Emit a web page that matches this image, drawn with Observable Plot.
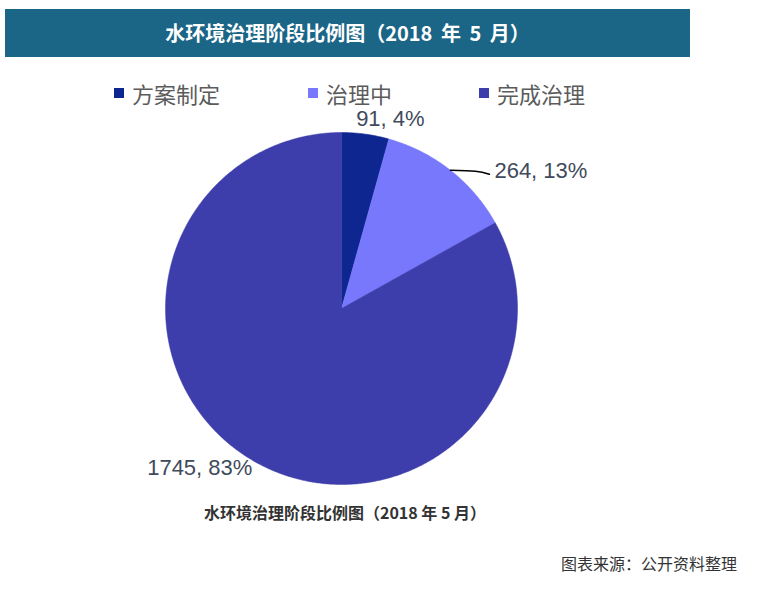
<!DOCTYPE html>
<html>
<head>
<meta charset="utf-8">
<script src="https://cdn.jsdelivr.net/npm/d3@7"></script>
<script src="https://cdn.jsdelivr.net/npm/@observablehq/plot@0.6"></script>
<style>
  html, body { margin: 0; padding: 0; background: #fff; }
  #wrap { position: relative; width: 769px; height: 591px; overflow: hidden; font-family: "Noto Sans CJK SC", "Noto Sans", sans-serif; }
  #titlebar { position: absolute; left: 5px; top: 9px; width: 685px; height: 48px; background: #1b6587;
    color: #fff; font-weight: bold; font-size: 20px; line-height: 48px; text-align: center; word-spacing: 4px; }
  #legend { position: absolute; left: 0; top: 78px; width: 769px; height: 30px; }
  .lg { position: absolute; top: 0; font-size: 22px; line-height: 30px; color: #5b5b5b; white-space: nowrap; }
  .lg i { position: absolute; left: -18px; top: 10px; width: 10px; height: 10px; }
  #caption { position: absolute; left: 0; width: 690px; top: 500px; text-align: center; font-weight: bold; font-size: 16px; color: #333; }
  #source { position: absolute; right: 32px; top: 551px; font-size: 16px; color: #333; }
  #chart { position: absolute; left: 0; top: 0; }
</style>
</head>
<body>
<div id="wrap">
  <div id="chart"></div>
  <div id="titlebar"></div>
  <div id="legend"></div>
  <div id="caption"></div>
  <div id="source"></div>
</div>
<script>
const titleText = "水环境治理阶段比例图（2018 年 5 月）";
const captionText = "水环境治理阶段比例图（2018 年 5 月）";
const sourceText = "图表来源：公开资料整理";
const categories = ["方案制定", "治理中", "完成治理"];
const values = [91, 264, 1745];
const percents = ["4%", "13%", "83%"];
const colors = ["#0e268f", "#7878fc", "#3d3dab"];

// layout (pixels)
const W = 769, H = 591, cx = 341, cy = 308, R = 176;
const legendX = [132, 326, 497];
// label placement offsets (pixels) relative to the slice's outer mid-arc point
const labelStyle = [
  {dx: 25, dy: -15, anchor: "middle"},
  {dx: 44, dy: 1, anchor: "start"},
  {dx: 0, dy: 8, anchor: "end"}
];

document.getElementById("titlebar").textContent = titleText;
document.getElementById("caption").textContent = captionText;
document.getElementById("source").textContent = sourceText;
const lg = document.getElementById("legend");
categories.forEach((c, i) => {
  const d = document.createElement("div");
  d.className = "lg";
  d.style.left = legendX[i] + "px";
  d.innerHTML = `<i style="background:${colors[i]}"></i>${c}`;
  lg.appendChild(d);
});

const arcs = d3.pie().sort(null)(values);
const slices = [];
arcs.forEach((a, i) => {
  const cat = categories[i];
  slices.push({cat, x: 0, y: 0});
  const n = Math.max(2, Math.ceil((a.endAngle - a.startAngle) / (Math.PI / 360)));
  for (let k = 0; k <= n; k++) {
    const t = a.startAngle + (a.endAngle - a.startAngle) * k / n;
    slices.push({cat, x: Math.sin(t), y: Math.cos(t)});
  }
  slices.push({cat, x: 0, y: 0});
});
const labels = arcs.map((a, i) => {
  const m = (a.startAngle + a.endAngle) / 2;
  return {cat: categories[i], text: `${values[i]}, ${percents[i]}`, x: Math.sin(m), y: Math.cos(m), ...labelStyle[i]};
});
const lead = labels[1];
const leader = [
  {x: lead.x, y: lead.y},
  {x: lead.x + 25 / R, y: lead.y - 1 / R},
  {x: lead.x + 39 / R, y: lead.y - 4 / R}
];

const plot = Plot.plot({
  width: W, height: H, margin: 0,
  x: {domain: [-cx / R, (W - cx) / R], range: [0, W], axis: null},
  y: {domain: [-(H - cy) / R, cy / R], range: [H, 0], axis: null},
  color: {domain: categories, range: colors},
  marks: [
    Plot.line(slices, {x: "x", y: "y", z: "cat", fill: "cat", stroke: "cat", strokeWidth: 0.5}),
    Plot.line(leader, {x: "x", y: "y", curve: "natural", stroke: "#000", strokeWidth: 1.6}),
    ...labels.map(l => Plot.text([l], {x: "x", y: "y", text: "text", dx: l.dx, dy: l.dy, textAnchor: l.anchor,
      fontSize: 22, fill: "#3f4a5c", fontFamily: "Liberation Sans, Arial, sans-serif"}))
  ]
});
document.getElementById("chart").appendChild(plot);
</script>
</body>
</html>
